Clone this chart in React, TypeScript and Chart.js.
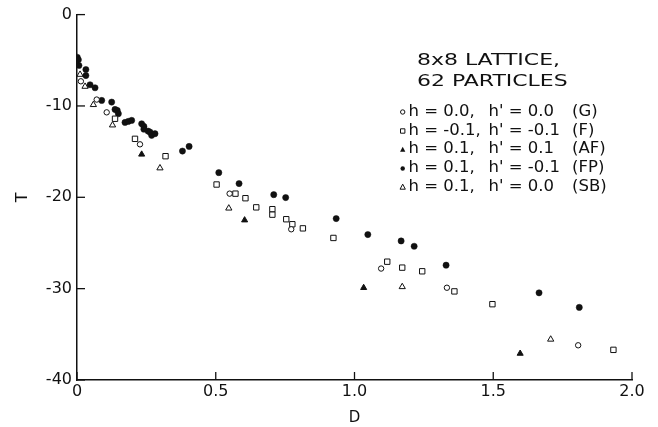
import React, { useEffect, useRef } from 'react';
import { Chart, registerables } from 'chart.js';

Chart.register(...registerables);

// ---- data ----
const gD = [0.014, 0.071, 0.107, 0.227, 0.55, 0.772, 1.096, 1.333, 1.806];
const gT = [-7.3, -9.3, -10.7, -14.2, -19.6, -23.5, -27.8, -29.9, -36.2];

const fD = [0.137, 0.209, 0.319, 0.503, 0.571, 0.607, 0.646, 0.704, 0.704, 0.754, 0.776, 0.814, 0.924, 1.118, 1.172, 1.244, 1.36, 1.497, 1.933];
const fT = [-11.4, -13.6, -15.5, -18.6, -19.6, -20.1, -21.1, -21.3, -21.9, -22.4, -22.95, -23.4, -24.45, -27.05, -27.7, -28.1, -30.3, -31.7, -36.7];

const afD = [0.233, 0.604, 1.033, 1.597];
const afT = [-15.3, -22.5, -29.9, -37.1];

const fpD = [0.001, 0.005, 0.007, 0.032, 0.032, 0.047, 0.065, 0.089, 0.125, 0.137, 0.145, 0.149, 0.173, 0.185, 0.197, 0.233, 0.241, 0.241, 0.256, 0.263, 0.269, 0.281, 0.38, 0.404, 0.511, 0.584, 0.709, 0.752, 0.934, 1.048, 1.168, 1.215, 1.33, 1.665, 1.81];
const fpT = [-4.67, -4.95, -5.57, -6.01, -6.67, -7.68, -8.01, -9.4, -9.58, -10.38, -10.49, -10.85, -11.8, -11.69, -11.58, -11.95, -12.24, -12.54, -12.75, -12.86, -13.22, -13.04, -14.94, -14.43, -17.3, -18.5, -19.71, -20.03, -22.33, -24.08, -24.78, -25.36, -27.43, -30.46, -32.05];

const sbD = [0.011, 0.029, 0.059, 0.128, 0.299, 0.547, 1.172, 1.707];
const sbT = [-6.56, -7.87, -9.87, -12.1, -16.8, -21.2, -29.8, -35.55];

const xTicks = [0, 0.5, 1.0, 1.5, 2.0];
const yTicks = [0, -10, -20, -30, -40];

const headerLines = ['8x8 LATTICE,', '62 PARTICLES'];
const legendH = ['h = 0.0,', 'h = -0.1,', 'h = 0.1,', 'h = 0.1,', 'h = 0.1,'];
const legendHp = ["h' = 0.0", "h' = -0.1", "h' = 0.1", "h' = -0.1", "h' = 0.0"];
const legendTag = ['(G)', '(F)', '(AF)', '(FP)', '(SB)'];
const legendMarker = ['openCircle', 'openSquare', 'filledTriangle', 'filledCircle', 'openTriangle'];

const INK = '#111';

const innerTicks = {
  id: 'innerTicks',
  afterDatasetsDraw(chart: any) {
    const { ctx, chartArea } = chart;
    const xs = chart.scales.x;
    const ys = chart.scales.y;
    ctx.save();
    ctx.strokeStyle = INK;
    ctx.lineWidth = 1.3;
    xTicks.forEach((v) => {
      const px = xs.getPixelForValue(v);
      ctx.beginPath();
      ctx.moveTo(px, chartArea.bottom);
      ctx.lineTo(px, chartArea.bottom - 8);
      ctx.stroke();
    });
    yTicks.forEach((v) => {
      const py = ys.getPixelForValue(v);
      ctx.beginPath();
      ctx.moveTo(chartArea.left, py);
      ctx.lineTo(chartArea.left + 8, py);
      ctx.stroke();
    });
    ctx.restore();
  },
};

function drawMarker(ctx: CanvasRenderingContext2D, kind: string, x: number, y: number) {
  const r = 2.2;
  ctx.beginPath();
  if (kind.includes('Circle')) {
    ctx.arc(x, y, r, 0, Math.PI * 2);
  } else if (kind.includes('Square')) {
    ctx.rect(x - r, y - r, 2 * r, 2 * r);
  } else {
    ctx.moveTo(x, y - r * 1.3);
    ctx.lineTo(x + r * 1.2, y + r);
    ctx.lineTo(x - r * 1.2, y + r);
    ctx.closePath();
  }
  if (kind.startsWith('filled')) {
    ctx.fillStyle = INK;
    ctx.fill();
  } else {
    ctx.fillStyle = '#fff';
    ctx.fill();
    ctx.strokeStyle = INK;
    ctx.lineWidth = 1;
    ctx.stroke();
  }
}

// draw text with a horizontal stretch factor
function wideText(ctx: CanvasRenderingContext2D, text: string, x: number, y: number, s: number) {
  ctx.save();
  ctx.translate(x, y);
  ctx.scale(s, 1);
  ctx.fillText(text, 0, 0);
  ctx.restore();
}

const legendText = {
  id: 'legendText',
  afterDraw(chart: any) {
    const c: CanvasRenderingContext2D = chart.ctx;
    c.save();
    c.fillStyle = INK;
    c.textBaseline = 'middle';
    c.textAlign = 'left';
    c.font = '16px "DejaVu Sans"';
    const hs = 143 / (c.measureText(headerLines[0]).width || 1);
    wideText(c, headerLines[0], 417, 61, hs);
    wideText(c, headerLines[1], 417, 82, hs);
    c.font = '15px "DejaVu Sans"';
    const rs = 1.1;
    const rowY = [112, 131, 149.5, 168.5, 187];
    rowY.forEach((y, i) => {
      drawMarker(c, legendMarker[i], 402.7, y);
      c.fillStyle = INK;
      wideText(c, legendH[i], 408.5, y, rs);
      wideText(c, legendHp[i], 488.5, y, rs);
      wideText(c, legendTag[i], 572, y, rs);
    });
    c.restore();
  },
};

const App = () => {
  const ref = useRef<HTMLCanvasElement>(null);
  useEffect(() => {
    const canvas = ref.current;
    if (!canvas) return;
    const mk = (xs: number[], ys: number[]) => xs.map((x, i) => ({ x, y: ys[i] }));
    const chart = new Chart(canvas, {
      type: 'scatter',
      data: {
        datasets: [
          { label: 'G', data: mk(gD, gT), pointStyle: 'circle', pointRadius: 2.7, backgroundColor: '#fff', borderColor: INK, borderWidth: 1 },
          { label: 'F', data: mk(fD, fT), pointStyle: 'rect', pointRadius: 3.8, backgroundColor: '#fff', borderColor: INK, borderWidth: 1 },
          { label: 'AF', data: mk(afD, afT), pointStyle: 'triangle', pointRadius: 3.5, backgroundColor: INK, borderColor: INK, borderWidth: 1 },
          { label: 'FP', data: mk(fpD, fpT), pointStyle: 'circle', pointRadius: 3.1, backgroundColor: INK, borderColor: INK, borderWidth: 0.5 },
          { label: 'SB', data: mk(sbD, sbT), pointStyle: 'triangle', pointRadius: 3.6, backgroundColor: '#fff', borderColor: INK, borderWidth: 1 },
        ],
      } as any,
      options: {
        responsive: false,
        animation: false,
        events: [],
        layout: { padding: { left: 0, right: 26, top: 14, bottom: 0 } },
        plugins: { legend: { display: false }, tooltip: { enabled: false } },
        scales: {
          x: {
            type: 'linear',
            min: 0,
            max: 2,
            afterBuildTicks: (s: any) => { s.ticks = xTicks.map((v) => ({ value: v })); },
            afterFit: (s: any) => { s.height = 47; },
            grid: { display: false, drawTicks: false },
            border: { display: true, color: INK, width: 1.5 },
            ticks: {
              color: INK,
              padding: 2,
              font: { family: '"DejaVu Sans"', size: 16 },
              callback: (v: any) => (Number(v) === 0 ? '0' : Number(v).toFixed(1)),
            },
            title: { display: true, text: 'D', color: INK, font: { family: '"DejaVu Sans"', size: 15 }, padding: { top: 0, bottom: 0 } },
          },
          y: {
            type: 'linear',
            min: -40,
            max: 0,
            afterBuildTicks: (s: any) => { s.ticks = yTicks.map((v) => ({ value: v })); },
            afterFit: (s: any) => { s.width = 77; },
            grid: { display: false, drawTicks: false },
            border: { display: true, color: INK, width: 1.5 },
            ticks: {
              color: INK,
              padding: 5,
              font: { family: '"DejaVu Sans"', size: 16 },
              callback: (v: any) => String(v),
            },
            title: { display: true, text: 'T', color: INK, font: { family: '"DejaVu Sans"', size: 16 }, padding: { top: 13, bottom: 0 } },
          },
        },
      } as any,
      plugins: [innerTicks, legendText],
    });
    return () => chart.destroy();
  }, []);
  return (
    <div style={{ position: 'fixed', left: 0, top: 0, width: 658, height: 427, background: '#fff' }}>
      <canvas ref={ref} width={658} height={427} style={{ width: 658, height: 427, display: 'block' }} />
    </div>
  );
};

export default App;
